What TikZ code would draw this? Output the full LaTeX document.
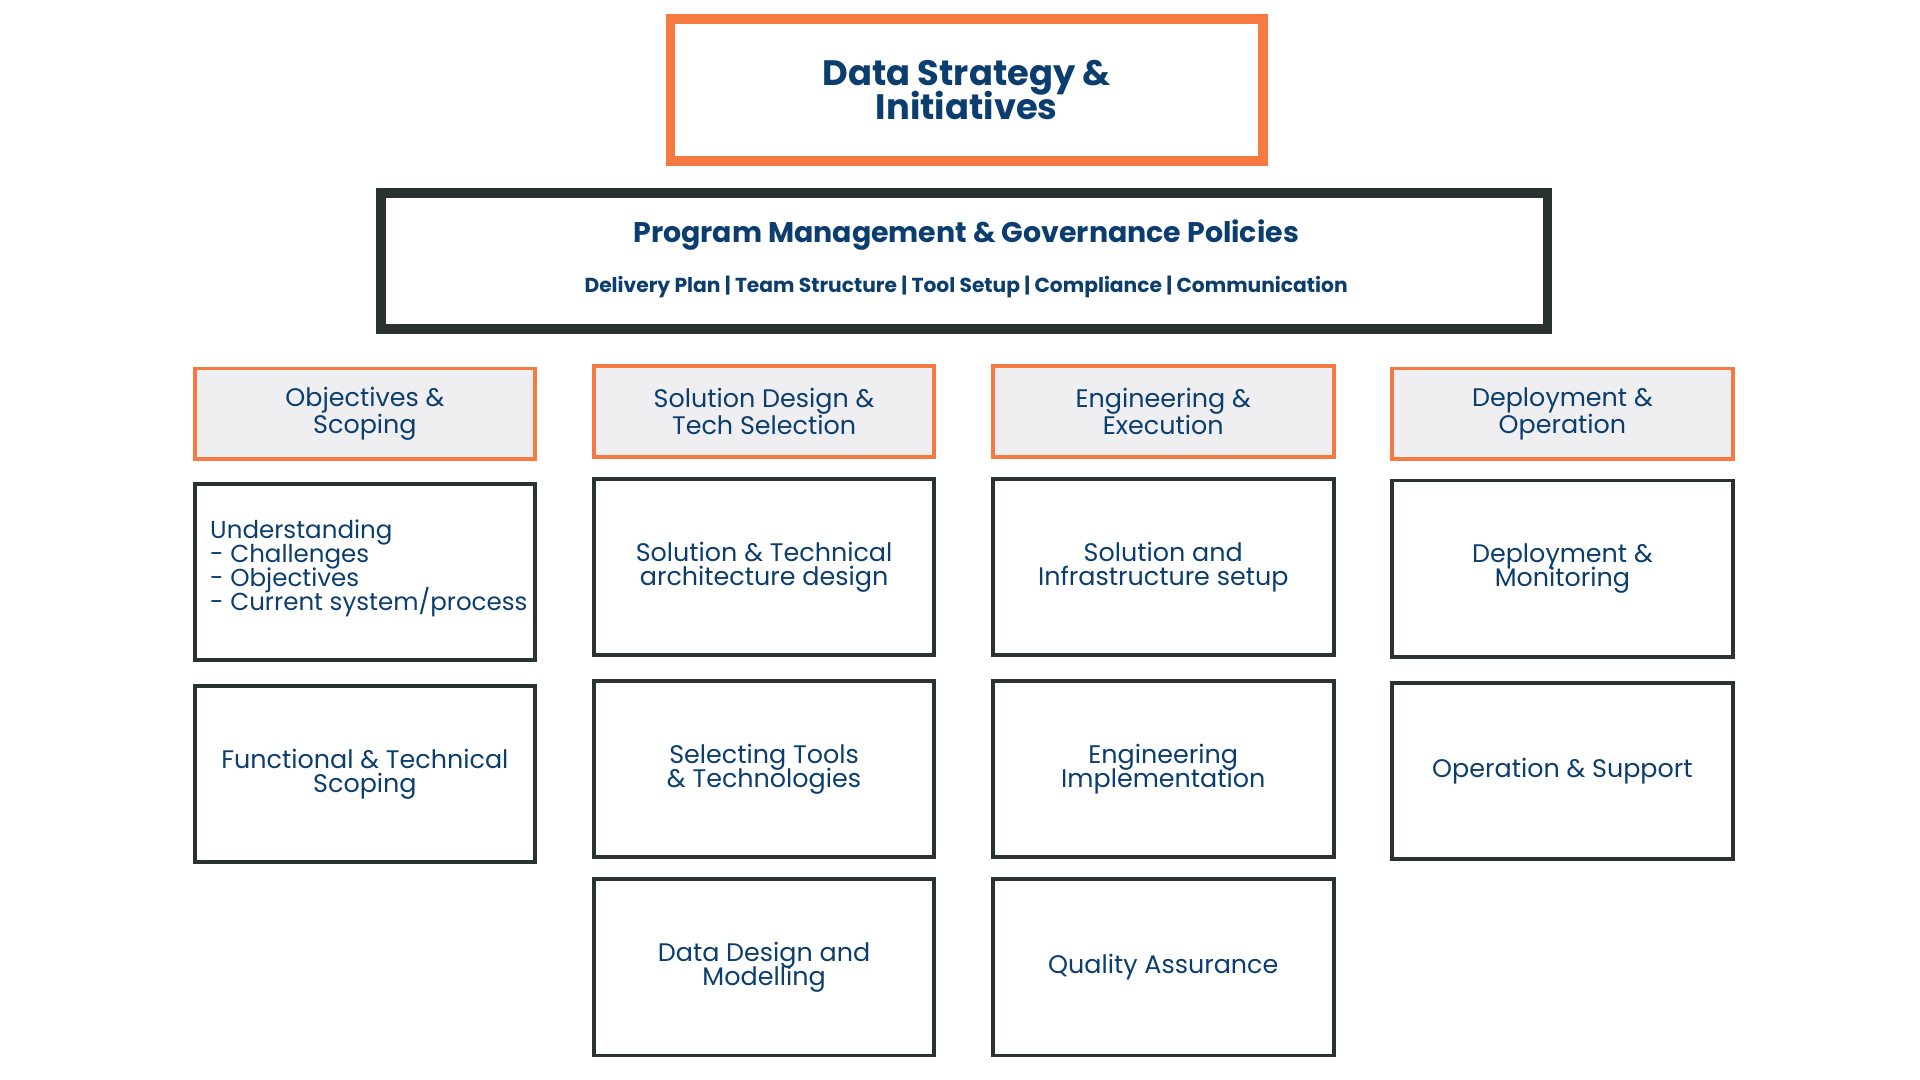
\documentclass[tikz,border=0pt]{standalone}
\usepackage{fontspec}
\setmainfont{Poppins}
\usepackage{tikz}
\definecolor{navy}{HTML}{0B3D6E}
\definecolor{accent}{HTML}{F47A42}
\definecolor{charcoal}{HTML}{2B3232}
\definecolor{headfill}{HTML}{EFEFF2}
\lineskiplimit=-20pt
\tikzset{
  head/.style={draw=accent,line width=0.9pt,fill=headfill,minimum width=2.78cm,minimum height=0.74cm,inner sep=1pt,align=center,text=navy,font=\fontsize{5.9}{6.4}\selectfont},
  item/.style={draw=charcoal,line width=0.9pt,minimum width=2.78cm,minimum height=1.44cm,inner sep=1pt,align=center,text=navy,font=\fontsize{5.9}{5.6}\selectfont},
}
\begin{document}
\begin{tikzpicture}[x=0.01cm,y=-0.01cm]
  \useasboundingbox (0,0) rectangle (1568,882);
  \node[draw=accent,line width=2.2pt,minimum width=4.84cm,minimum height=1.16cm,text=navy,align=center,font=\bfseries\fontsize{8.2}{7.8}\selectfont] (title) at (789.5,73.5) {Data Strategy \&\\Initiatives};
  \node[draw=charcoal,line width=2.2pt,minimum width=9.52cm,minimum height=1.11cm] (pm) at (787.5,213) {};
  \node[text=navy,font=\bfseries\fontsize{6.6}{8}\selectfont] (pmt) at (789,192) {Program Management \& Governance Policies};
  \node[text=navy,font=\bfseries\fontsize{4.7}{6}\selectfont] (pms) at (789,234) {Delivery Plan | Team Structure | Tool Setup | Compliance | Communication};

  \node[head] (h1) at (298,338) {Objectives \&\\Scoping};
  \node[head] (h2) at (624,336) {Solution Design \&\\Tech Selection};
  \node[head] (h3) at (950,336) {Engineering \&\\Execution};
  \node[head] (h4) at (1276,338) {Deployment \&\\Operation};

  \node[item] (a1) at (298,467) {};
  \node[text=navy,align=left,anchor=west,inner sep=0pt,font=\fontsize{5.7}{5.6}\selectfont] (a1t) at (171,464) {Understanding\\- Challenges\\- Objectives\\- Current system/process};
  \node[item] (a2) at (298,632) {Functional \& Technical\\Scoping};

  \node[item] (b1) at (624,463) {Solution \& Technical\\architecture design};
  \node[item] (b2) at (624,628) {Selecting Tools\\\& Technologies};
  \node[item] (b3) at (624,790) {Data Design and\\Modelling};

  \node[item] (c1) at (950,463) {Solution and\\Infrastructure setup};
  \node[item] (c2) at (950,628) {Engineering\\Implementation};
  \node[item] (c3) at (950,790) {Quality Assurance};

  \node[item] (d1) at (1276,464.5) {Deployment \&\\Monitoring};
  \node[item] (d2) at (1276,629.5) {Operation \& Support};
\end{tikzpicture}
\end{document}
